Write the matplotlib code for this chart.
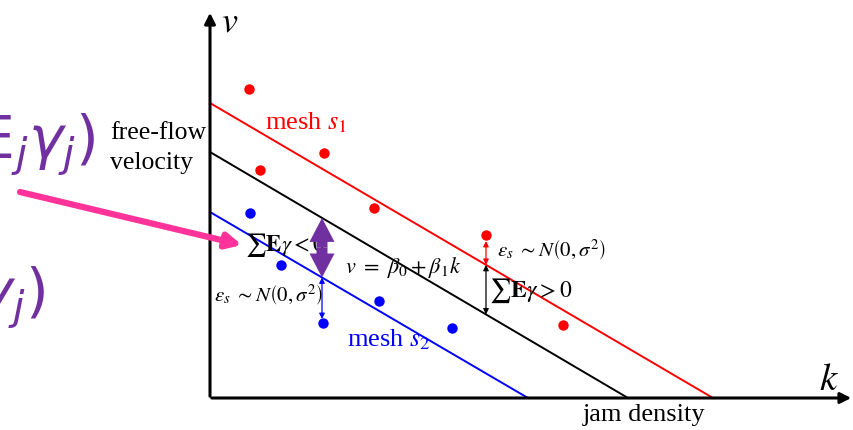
#
#  fundamental diagram: speed vs density with mesh offsets
#
################################################################

import numpy as np
import matplotlib.pyplot as plt
from matplotlib.patches import FancyArrow

plt.rcParams['mathtext.fontset'] = 'stix'
serif = 'Liberation Serif'

#  lines: v-intercept (free-flow) and k-intercept (jam density)
line_names = ["mesh s1", "global", "mesh s2"]
line_vf = [295, 246, 186]
line_kj = [503, 418, 318]
line_colors = ['red', 'black', 'blue']

#  observed points per mesh
red_k = [39, 50, 114, 164, 276, 353]
red_v = [309, 228, 245, 190, 163, 73]
blue_k = [40, 71, 113, 169, 242]
blue_v = [185, 133, 75, 97, 70]

def line_v(i, k):
    return line_vf[i]*(1 - k/line_kj[i])

fig = plt.figure(figsize=(8.54, 4.30), dpi=100)
ax = fig.add_axes([0, 0, 1, 1])
ax.set_xlim(-210, 644)
ax.set_ylim(-32, 398)
ax.axis('off')

#  axes with arrows
ax.annotate('', xy=(0, 388), xytext=(0, -1),
            arrowprops=dict(arrowstyle='-|>', lw=2.2, color='k', mutation_scale=16))
ax.annotate('', xy=(644, 0), xytext=(-1, 0),
            arrowprops=dict(arrowstyle='-|>', lw=2.2, color='k', mutation_scale=16))
ax.text(11, 376, r'$v$', fontsize=26, ha='left', va='center')
ax.text(609, 19, r'$k$', fontsize=28, ha='left', va='center')

#  regression lines
for i in range(len(line_vf)):
    kk = np.array([0, line_kj[i]])
    ax.plot(kk, line_v(i, kk), color=line_colors[i], lw=1.4, zorder=2)

ax.plot(red_k, red_v, 'o', color='red', ms=7.5, mec='none', zorder=3)
ax.plot(blue_k, blue_v, 'o', color='blue', ms=7.5, mec='none', zorder=3)

ax.text(55, 275, r'mesh $s_1$', color='red', fontsize=19, family=serif, va='center')
ax.text(137, 58, r'mesh $s_2$', color='blue', fontsize=19, family=serif, va='center')
ax.text(-100, 250, 'free-flow\nvelocity', fontsize=18.5, family=serif,
        va='center', ha='left', linespacing=1.5)
ax.text(373, -17, 'jam density', fontsize=19, family=serif, va='center')
ax.text(135, 130, r'$v\ =\ \beta_0 + \beta_1 k$', fontsize=16, va='center')

#  wide purple double arrow between the global and mesh-2 lines
km = 112
top, bot = line_v(1, km), line_v(2, km)
mid = 0.5*(top + bot)
for end in (top, bot):
    ax.add_patch(FancyArrow(km, mid, 0, end - mid, width=11, head_width=25,
                            head_length=24, length_includes_head=True,
                            color='#7030A0', lw=0, zorder=4))
ax.text(35, 153, r'$\sum\mathbf{E}\gamma<0$', fontsize=16.5, va='center')

#  mesh-2 noise
ax.annotate('', xy=(km, 79), xytext=(km, line_v(2, km)),
            arrowprops=dict(arrowstyle='<|-|>', lw=0.9, color='blue',
                            mutation_scale=8, shrinkA=0, shrinkB=0))
ax.text(4, 103, r'$\varepsilon_s\ \sim N\left(0,\sigma^2\right)$', fontsize=15, va='center')

#  mesh-1 noise and offset
kr = 276
ax.annotate('', xy=(kr, 157), xytext=(kr, line_v(0, kr)),
            arrowprops=dict(arrowstyle='<|-|>', lw=0.9, color='red',
                            mutation_scale=8, shrinkA=0, shrinkB=0))
ax.annotate('', xy=(kr, line_v(0, kr)), xytext=(kr, line_v(1, kr)),
            arrowprops=dict(arrowstyle='<|-|>', lw=0.9, color='black',
                            mutation_scale=8, shrinkA=0, shrinkB=0))
ax.text(287, 148, r'$\varepsilon_s\ \sim N\left(0,\sigma^2\right)$', fontsize=15, va='center')
ax.text(279, 107, r'$\sum\mathbf{E}\gamma>0$', fontsize=17, va='center')

#  pointer and the clipped expressions at the left
ax.annotate('', xy=(32, 153), xytext=(-190, 206),
            arrowprops=dict(arrowstyle='-|>', lw=4.5, color='#FF3399',
                            mutation_scale=22, shrinkA=0, shrinkB=0))
ax.text(-115, 260, r'$\sum\mathrm{E}_j\gamma_j)$', fontsize=42, color='#7030A0',
        ha='right', va='center', math_fontfamily='dejavusans')
ax.text(-165, 100, r'$\mathrm{E}(\gamma_j)$', fontsize=42, color='#7030A0',
        ha='right', va='center', math_fontfamily='dejavusans')

plt.savefig('out.png', dpi=100)
